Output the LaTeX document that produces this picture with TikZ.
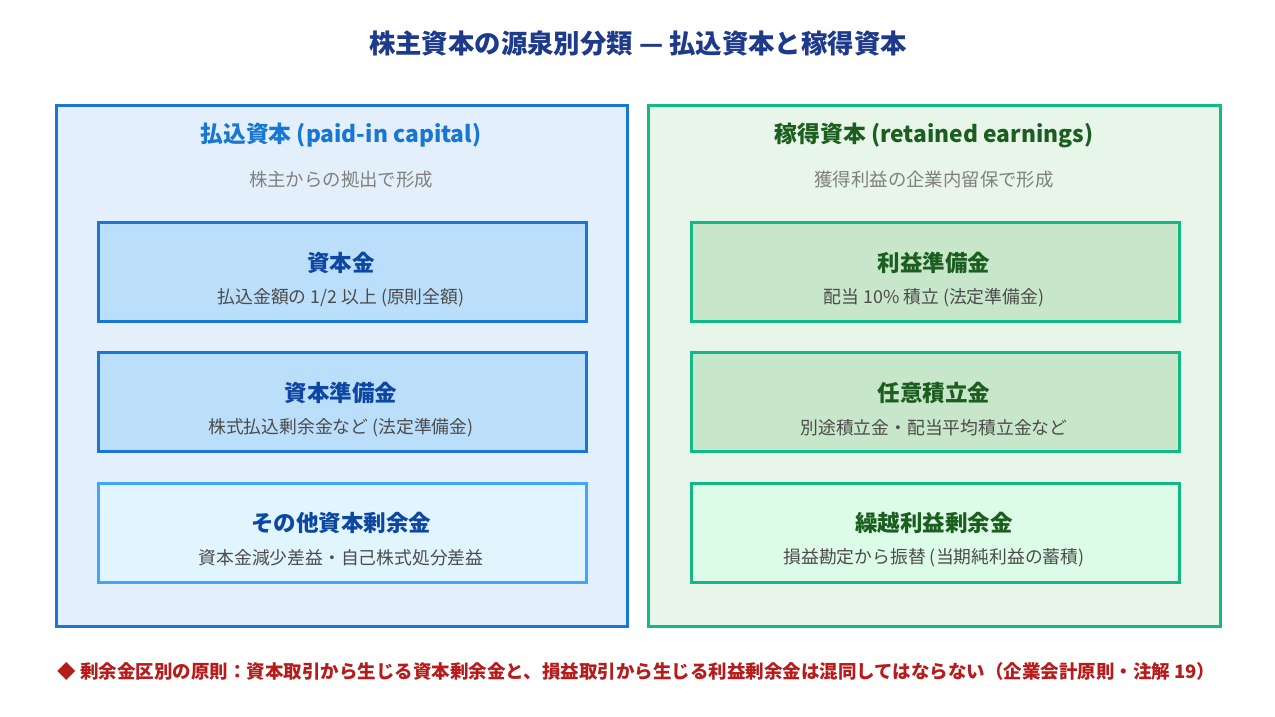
\documentclass[tikz,border=0pt]{standalone}
\usepackage{fontspec}
\setmainfont{Noto Sans CJK JP}
\begin{document}
\begin{tikzpicture}[x=1pt,y=-1pt,
 panel/.style={line width=3pt},
 box/.style={line width=2.5pt,minimum width=488pt,minimum height=99pt,anchor=north west,inner sep=0pt},
 bt/.style={font=\fontsize{22.5}{26}\selectfont\bfseries},
 bs/.style={font=\fontsize{17.8}{20}\selectfont,text=black!70}]
\definecolor{bl}{HTML}{1976D2}\definecolor{blf}{HTML}{E3F0FB}\definecolor{blb}{HTML}{BBDEFB}
\definecolor{lb}{HTML}{42A5F5}\definecolor{lbf}{HTML}{E1F5FE}
\definecolor{gr}{HTML}{12B886}\definecolor{grf}{HTML}{E8F5E9}\definecolor{grb}{HTML}{C8E6C9}\definecolor{grl}{HTML}{DCFCE7}
\definecolor{dg}{HTML}{1B5E20}\definecolor{db}{HTML}{0D47A1}\definecolor{nv}{HTML}{1E3A8A}\definecolor{rd}{HTML}{B71C1C}
\useasboundingbox (0,0) rectangle (1275,717);
\fill[white] (0,0) rectangle (1275,717);
\node[text=nv,font=\fontsize{26.4}{30}\selectfont\bfseries] (title) at (638,43) {株主資本の源泉別分類 — 払込資本と稼得資本};
\draw[panel,bl,fill=blf] (56,105) rectangle (627,626);
\draw[panel,gr,fill=grf] (648,105) rectangle (1220,626);
\node[text=bl,font=\fontsize{22.8}{26}\selectfont\bfseries] (lh) at (341,135) {払込資本 (paid-in capital)};
\node[font=\fontsize{18.4}{21}\selectfont,text=black!50] (ls) at (341,180) {株主からの拠出で形成};
\node[text=dg,font=\fontsize{22.8}{26}\selectfont\bfseries] (rh) at (934,135) {稼得資本 (retained earnings)};
\node[font=\fontsize{18.4}{21}\selectfont,text=black!50] (rs) at (934,180) {獲得利益の企業内留保で形成};
\node[box,draw=bl,fill=blb] (a1) at (97,221) {};
\node[box,draw=bl,fill=blb] (a2) at (97,351) {};
\node[box,draw=lb,fill=lbf] (a3) at (97,482) {};
\node[box,draw=gr,fill=grb] (b1) at (690,221) {};
\node[box,draw=gr,fill=grb] (b2) at (690,351) {};
\node[box,draw=gr,fill=grl] (b3) at (690,482) {};
\node[bt,text=db] (a1t) at (341,263) {資本金};
\node[bs] (a1s) at (341,298) {払込金額の 1/2 以上 (原則全額)};
\node[bt,text=db] (a2t) at (341,393) {資本準備金};
\node[bs] (a2s) at (341,428) {株式払込剰余金など (法定準備金)};
\node[bt,text=db] (a3t) at (341,523) {その他資本剰余金};
\node[bs] (a3s) at (341,558) {資本金減少差益・自己株式処分差益};
\node[bt,text=dg] (b1t) at (934,263) {利益準備金};
\node[bs] (b1s) at (934,298) {配当 10\% 積立 (法定準備金)};
\node[bt,text=dg] (b2t) at (934,393) {任意積立金};
\node[bs] (b2s) at (934,428) {別途積立金・配当平均積立金など};
\node[bt,text=dg] (b3t) at (934,523) {繰越利益剰余金};
\node[bs] (b3s) at (934,558) {損益勘定から振替 (当期純利益の蓄積)};
\node[anchor=west,text=rd,font=\fontsize{18.5}{21}\selectfont\bfseries] (ft) at (54,671) {◆ 剰余金区別の原則：資本取引から生じる資本剰余金と、損益取引から生じる利益剰余金は混同してはならない（企業会計原則・注解 19）};
\end{tikzpicture}
\end{document}
